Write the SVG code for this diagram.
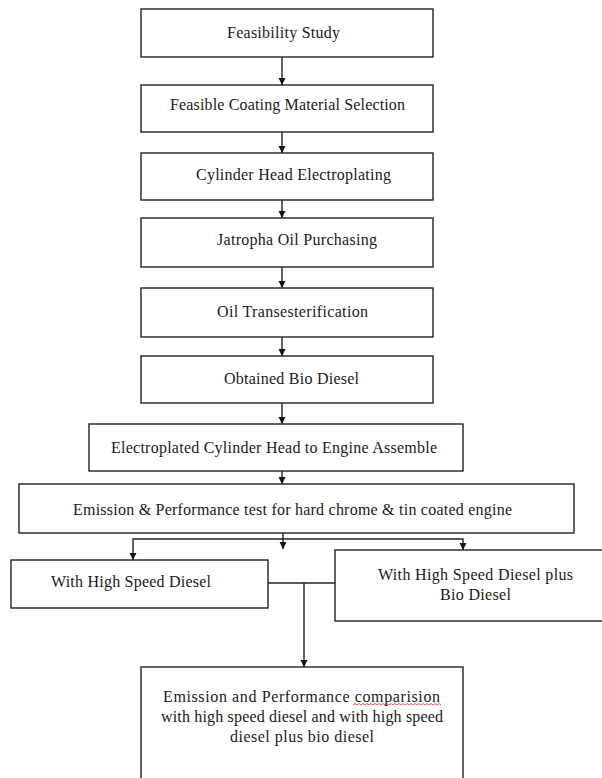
<svg xmlns="http://www.w3.org/2000/svg" width="602" height="778" viewBox="0 0 602 778">
<defs>
<marker id="ah" markerWidth="8" markerHeight="8" refX="7" refY="4" orient="auto" markerUnits="userSpaceOnUse">
<path d="M0,0.5 L7,4 L0,7.5 Z" fill="#111"/>
</marker>
<style>
.box{fill:#fff;stroke:#222;stroke-width:1.4}
.t{font-family:"Liberation Serif","Times New Roman",serif;font-size:16px;fill:#1a1a1a;text-anchor:middle}
.c{fill:none;stroke:#222;stroke-width:1.4}
.ca{fill:none;stroke:#222;stroke-width:1.4;marker-end:url(#ah)}
</style>
</defs>
<rect width="602" height="778" fill="#fff"/>
<g id="connectors">
<line class="ca" x1="282" y1="57" x2="282" y2="85"/>
<line class="ca" x1="282" y1="132" x2="282" y2="153"/>
<line class="ca" x1="282" y1="200" x2="282" y2="218"/>
<line class="ca" x1="282" y1="267" x2="282" y2="288"/>
<line class="ca" x1="282" y1="337" x2="282" y2="356"/>
<line class="ca" x1="282" y1="403" x2="282" y2="424"/>
<line class="ca" x1="282" y1="471" x2="282" y2="484"/>
<line class="ca" x1="283" y1="533" x2="283" y2="549"/>
<polyline class="ca" points="283,539 133,539 133,560"/>
<polyline class="ca" points="283,539 463,539 463,550"/>
<line class="c" x1="268" y1="583" x2="335" y2="583"/>
<line class="ca" x1="304" y1="583" x2="304" y2="667"/>
</g>
<g id="n1"><rect class="box" x="141" y="9" width="292" height="48"/><text class="t" x="283.5" y="38" textLength="113" lengthAdjust="spacing">Feasibility Study</text></g>
<g id="n2"><rect class="box" x="141" y="85" width="292" height="47"/><text class="t" x="287.5" y="110" textLength="235" lengthAdjust="spacing">Feasible Coating Material Selection</text></g>
<g id="n3"><rect class="box" x="141" y="153" width="292" height="47"/><text class="t" x="293.5" y="180" textLength="195" lengthAdjust="spacing">Cylinder Head Electroplating</text></g>
<g id="n4"><rect class="box" x="141" y="218" width="292" height="49"/><text class="t" x="297" y="245" textLength="160" lengthAdjust="spacing">Jatropha Oil Purchasing</text></g>
<g id="n5"><rect class="box" x="141" y="288" width="292" height="49"/><text class="t" x="292.5" y="317" textLength="151" lengthAdjust="spacing">Oil Transesterification</text></g>
<g id="n6"><rect class="box" x="141" y="356" width="292" height="47"/><text class="t" x="291.5" y="384" textLength="135" lengthAdjust="spacing">Obtained Bio Diesel</text></g>
<g id="n7"><rect class="box" x="89" y="424" width="374" height="47"/><text class="t" x="274" y="453" textLength="326" lengthAdjust="spacing">Electroplated Cylinder Head to Engine Assemble</text></g>
<g id="n8"><rect class="box" x="19" y="484" width="555" height="49"/><text class="t" x="292.5" y="515" textLength="439" lengthAdjust="spacing">Emission &amp; Performance test for hard chrome &amp; tin coated engine</text></g>
<g id="n9"><rect class="box" x="11" y="560" width="257" height="48"/><text class="t" x="131" y="587" textLength="160" lengthAdjust="spacing">With High Speed Diesel</text></g>
<g id="n10"><rect class="box" x="335" y="550" width="275" height="71"/><text class="t" x="475.5" y="580" textLength="195" lengthAdjust="spacing">With High Speed Diesel plus</text><text class="t" x="475.5" y="600" textLength="71" lengthAdjust="spacing">Bio Diesel</text></g>
<g id="n11"><rect class="box" x="141" y="667" width="322" height="120"/>
<text class="t" x="301.5" y="702" textLength="277" lengthAdjust="spacing">Emission and Performance comparision</text>
<text class="t" x="302" y="722" textLength="282" lengthAdjust="spacing">with high speed diesel and with high speed</text>
<text class="t" x="302" y="742" textLength="144" lengthAdjust="spacing">diesel plus bio diesel</text>
<path d="M353,705 l2,-1.5 l2,1.5 l2,-1.5 l2,1.5 l2,-1.5 l2,1.5 l2,-1.5 l2,1.5 l2,-1.5 l2,1.5 l2,-1.5 l2,1.5 l2,-1.5 l2,1.5 l2,-1.5 l2,1.5 l2,-1.5 l2,1.5 l2,-1.5 l2,1.5 l2,-1.5 l2,1.5 l2,-1.5 l2,1.5 l2,-1.5 l2,1.5 l2,-1.5 l2,1.5 l2,-1.5 l2,1.5 l2,-1.5 l2,1.5 l2,-1.5 l2,1.5 l2,-1.5 l2,1.5 l2,-1.5 l2,1.5 l2,-1.5 l2,1.5 l2,-1.5 l2,1.5 l2,-1.5 l2,1.5" fill="none" stroke="#e03030" stroke-width="0.8"/>
</g>
</svg>
